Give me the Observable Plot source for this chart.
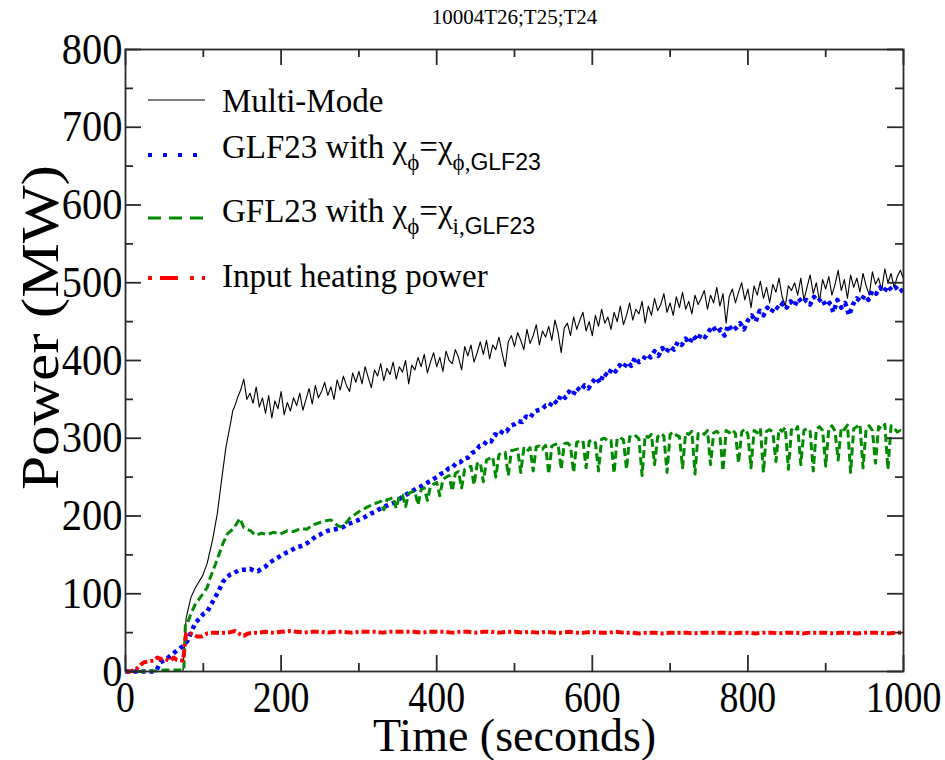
<!DOCTYPE html>
<html><head><meta charset="utf-8">
<script src="https://cdn.jsdelivr.net/npm/d3@7"></script>
<script src="https://cdn.jsdelivr.net/npm/@observablehq/plot@0.6"></script>
<style>
html,body{margin:0;padding:0;background:#fff;}
svg{display:block;}
</style></head><body>
<div id="chart"></div>
<script>
// ---------- text ----------
const chartTitle = "10004T26;T25;T24";
const xLabel = "Time (seconds)";
const yLabel = "Power (MW)";
const xMajorTicks = [0, 200, 400, 600, 800, 1000];
const xMinorTicks = [100, 300, 500, 700, 900];
const yMajorTicks = [0, 100, 200, 300, 400, 500, 600, 700, 800];
const yMinorTicks = [50, 150, 250, 350, 450, 550, 650, 750];
const seriesNames = ["Multi-Mode", "GLF23", "GFL23", "Input heating power"];
const seriesColors = ["#000000", "#0000ff", "#008b00", "#ff0000"];

// ---------- Multi-Mode (black) ----------
const mmEarlyTime  = [0, 25, 50, 74, 76, 78, 84, 90, 99, 105, 112, 118, 124, 129, 135, 138];
const mmEarlyPower = [0, 0, 0, 0, 40, 69, 95, 108, 123, 139, 170, 203, 250, 288, 319, 336];
const mmGridStart = 140, mmGridStep = 4;
const mmGridPower = [
  340,352,362,376,350,358,345,366,340,352,
  332,355,326,348,338,360,330,346,335,352,
  342,358,336,350,364,344,368,352,360,372,
  355,366,350,375,362,380,368,360,384,372,
  386,370,392,378,365,388,380,396,374,390,
  382,398,376,392,385,400,370,394,388,404,
  392,408,384,398,410,392,404,386,412,400,
  396,414,404,388,418,406,420,398,410,424,
  408,426,402,420,414,430,410,392,424,432,
  418,436,426,414,440,422,432,446,420,438,
  430,444,426,452,436,410,442,448,432,456,
  440,452,462,438,450,432,458,444,466,448,
  456,440,462,450,470,446,458,474,452,466,
  460,476,448,470,458,480,464,472,486,462,
  474,458,482,468,488,466,476,460,484,472,
  480,490,466,484,474,494,470,486,448,482,
  492,474,488,500,478,492,468,496,484,502,
  480,494,474,498,488,506,482,470,496,490,
  500,484,506,478,494,510,486,500,476,504,
  492,508,484,498,516,490,504,480,510,494,
  506,488,512,496,484,514,498,506,490,518,
  500,512,494,508,516,505
];

// ---------- GLF23 with chi_phi = chi_phi,GLF23 (blue) ----------
const blEarlyTime  = [0, 10, 20, 30, 36];
const blEarlyPower = [0, 0, 0, 0, 0];
const blGridStart = 40, blGridStep = 5;
const blGridPower = [
  2,12,14,18,22,26,30,33,40,52,
  63,68,74,77,86,95,104,115,121,125,
  127,130,131,131,132,130,129,132,135,140,
  143,146,149,152,154,157,160,161,163,166,
  170,174,176,179,181,182,183,184,186,189,
  191,193,195,197,200,203,205,208,211,213,
  215,217,220,224,227,230,233,236,238,241,
  244,247,250,254,256,261,262,268,269,274,
  275,281,283,290,291,297,296,305,303,310,
  309,316,318,322,321,328,326,334,336,337,
  342,341,349,345,356,352,360,355,365,361,
  368,364,372,378,371,384,380,390,386,394,
  390,398,393,404,398,401,408,404,412,406,
  416,410,418,414,424,420,428,422,432,426,
  434,430,438,444,436,440,432,446,438,442,
  448,440,452,458,450,464,458,468,462,470,
  466,474,468,476,470,480,474,478,472,482,
  476,480,470,474,462,478,468,474,458,472,
  480,476,484,478,490,486,494,488,496,490,
  494,488,492
];

// ---------- GFL23 with chi_phi = chi_i,GLF23 (green) ----------
const grEarlyTime  = [0,20,40,50,60,70,75,76,77,80,84,90,96,105,109,116,120,125,131,139,147,150,152,156,161,167,175,182,190,199,208,216,225,233,242,251,258,264,268,272,277,281,285,289,295,302,310,316,320];
const grEarlyPower = [0,0,1,2,2,2,2,30,62,63,74,87,95,108,121,139,150,164,177,184,197,190,185,183,181,175,178,176,179,177,181,180,184,183,189,192,194,195,192,188,186,188,193,198,202,207,211,214,216];
const grGridStart = 324, grGridStep = 4;
const grGridPower = [
  217,219,208,221,222,224,210,226,227,212,
  229,231,232,214,234,236,220,238,241,243,
  226,247,250,252,232,255,257,236,260,262,
  264,240,267,269,244,272,274,276,250,279,
  281,282,252,284,285,286,256,287,283,288,
  258,289,290,286,291,254,290,292,293,260,
  293,294,290,256,295,296,297,262,296,298,
  294,258,299,300,296,297,255,300,301,298,
  260,302,300,303,299,252,304,301,305,266,
  302,306,303,256,305,308,304,302,262,307,
  305,309,254,306,308,305,310,266,307,309,
  304,258,310,307,311,306,268,308,312,305,
  262,310,307,313,256,309,311,308,270,312,
  309,314,260,311,308,315,266,310,313,309,
  258,312,315,310,264,313,316,309,272,314,
  311,317,256,312,315,318,262,313,316,310,
  268,315,312,318,260,316,313,308,310,307
];

// ---------- Input heating power (red) ----------
const rdEarlyTime  = [0,6,12,16,20,24,30,36,41,45,49,54,58,62,66,70,74,76,78,82,86,92,98,105,112,118,125,132,141,147,152,158,165];
const rdEarlyPower = [0,0,2,5,9,12,13,14,18,16,17,15,14,18,15,14,14,32,49,50,48,45,45,49,50,50,50,50,52,48,46,49,50];
const rdGridStart = 170, rdGridStep = 10;
const rdGridPower = [
  50,51,50,51,52,51,50,51,51,50,
  51,51,50,51,51,51,50,51,51,51,
  51,50,51,51,51,50,51,51,50,51,
  51,50,51,51,50,51,50,51,50,50,
  51,50,50,51,50,50,51,50,50,49,
  50,50,49,50,50,50,49,50,50,50,
  50,49,50,50,49,50,50,49,50,50,
  49,50,50,50,49,50,50,49,50,50,
  50,49,50,50
];

function buildSeries(earlyT, earlyP, start, step, gridP) {
  const pts = earlyT.map((t, i) => ({t, p: earlyP[i]}));
  gridP.forEach((p, i) => pts.push({t: start + i * step, p}));
  return pts;
}
const multiMode = buildSeries(mmEarlyTime, mmEarlyPower, mmGridStart, mmGridStep, mmGridPower);
const glf23     = buildSeries(blEarlyTime, blEarlyPower, blGridStart, blGridStep, blGridPower);
const gfl23     = buildSeries(grEarlyTime, grEarlyPower, grGridStart, grGridStep, grGridPower);
const heating   = buildSeries(rdEarlyTime, rdEarlyPower, rdGridStart, rdGridStep, rdGridPower);

const serif = "Liberation Serif, Times New Roman, serif";
const axisGray = "#2a2a2a";
const W = 945, H = 760, mL = 125, mR = 42, mT = 49, mB = 89;
const frameW = W - mL - mR, frameH = H - mT - mB;
const majorLen = 16, minorLen = 8;
const tk = {stroke: axisGray, strokeWidth: 1.8};

const chart = Plot.plot({
  width: W, height: H,
  marginLeft: mL, marginRight: mR, marginTop: mT, marginBottom: mB,
  x: {domain: [0, 1000], label: null},
  y: {domain: [0, 800], label: null},
  style: {fontFamily: serif, background: "#fff", color: "#000"},
  marks: [
    Plot.line(multiMode, {x: "t", y: "p", stroke: seriesColors[0], strokeWidth: 1.1}),
    Plot.line(glf23, {x: "t", y: "p", stroke: seriesColors[1], strokeWidth: 4.5, strokeDasharray: "4,4", strokeLinecap: "butt"}),
    Plot.line(gfl23, {x: "t", y: "p", stroke: seriesColors[2], strokeWidth: 3, strokeDasharray: "8,4", strokeLinecap: "butt"}),
    Plot.line(heating, {x: "t", y: "p", stroke: seriesColors[3], strokeWidth: 4, strokeDasharray: "8,3,3,3", strokeLinecap: "butt"}),
    Plot.frame({stroke: axisGray, strokeWidth: 1.8}),
    // inward ticks on all four sides
    Plot.tickX(xMajorTicks, {x: d => d, insetTop: frameH - majorLen, ...tk}),
    Plot.tickX(xMinorTicks, {x: d => d, insetTop: frameH - minorLen, ...tk}),
    Plot.tickX(xMajorTicks, {x: d => d, insetBottom: frameH - majorLen, ...tk}),
    Plot.tickX(xMinorTicks, {x: d => d, insetBottom: frameH - minorLen, ...tk}),
    Plot.tickY(yMajorTicks, {y: d => d, insetRight: frameW - majorLen, ...tk}),
    Plot.tickY(yMinorTicks, {y: d => d, insetRight: frameW - minorLen, ...tk}),
    Plot.tickY(yMajorTicks, {y: d => d, insetLeft: frameW - majorLen, ...tk}),
    Plot.tickY(yMinorTicks, {y: d => d, insetLeft: frameW - minorLen, ...tk}),
    // tick labels
    Plot.axisX(xMajorTicks, {anchor: "bottom", tickSize: 0, tickPadding: 9, fontSize: 44, tickFormat: d => String(d)}),
    Plot.axisY(yMajorTicks, {anchor: "left", tickSize: 0, tickPadding: 3, fontSize: 44, tickFormat: d => String(d)}),
    // titles
    Plot.text([chartTitle], {text: d => d, frameAnchor: "top", lineAnchor: "middle", textAnchor: "middle", dy: -32, fontSize: 21}),
    Plot.text([xLabel], {text: d => d, frameAnchor: "bottom", lineAnchor: "middle", textAnchor: "middle", dy: 65, fontSize: 46}),
    Plot.text([yLabel], {text: d => d, frameAnchor: "left", lineAnchor: "middle", textAnchor: "middle", dx: -84, dy: -33, rotate: -90, fontSize: 52})
  ]
});
document.getElementById("chart").append(chart);

// horizontally condensed tick labels, as in the reference
chart.querySelectorAll('g[aria-label="x-axis tick label"] text').forEach(t => {
  const L = t.getComputedTextLength();
  t.setAttribute("textLength", (L * 0.86).toFixed(1));
  t.setAttribute("lengthAdjust", "spacingAndGlyphs");
});
chart.querySelectorAll('g[aria-label="y-axis tick label"] text').forEach(t => {
  const L = t.getComputedTextLength();
  t.setAttribute("textLength", (L * 0.92).toFixed(1));
  t.setAttribute("lengthAdjust", "spacingAndGlyphs");
});
d3.select(chart).selectAll("text").filter(function () { return this.textContent === yLabel; })
  .attr("textLength", 325).attr("lengthAdjust", "spacingAndGlyphs");

// ---------- legend ----------
const svg = d3.select(chart);
const lg = svg.append("g").attr("font-family", serif).attr("font-size", 33).attr("fill", "#000").attr("text-anchor", "start");
const legendRows = [
  {ly: 100, by: 112, dash: null, w: 1.2, parts: [["n", "Multi-Mode"]]},
  {ly: 155, by: 158, dash: "4,11", w: 4, parts: [["n", "GLF23 with χ"], ["s", "ϕ"], ["n", "=χ"], ["s", "ϕ,"], ["ss", "GLF23"]]},
  {ly: 218, by: 222, dash: "13,8", w: 3, parts: [["n", "GFL23 with χ"], ["s", "ϕ"], ["n", "=χ"], ["s", "i,"], ["ss", "GLF23"]]},
  {ly: 278, by: 287, dash: "4,8,18,12", w: 4, parts: [["n", "Input heating power"]]}
];
legendRows.forEach((r, i) => {
  const ln = lg.append("line").attr("x1", 148).attr("x2", 205).attr("y1", r.ly).attr("y2", r.ly)
    .attr("stroke", seriesColors[i]).attr("stroke-width", r.w);
  if (r.dash) ln.attr("stroke-dasharray", r.dash);
  const tx = lg.append("text").attr("x", 222).attr("y", r.by);
  let lowered = false;
  r.parts.forEach(([kind, s]) => {
    const ts = tx.append("tspan").text(s);
    if (kind === "n") {
      if (lowered) { ts.attr("dy", -12); lowered = false; }
    } else {
      ts.attr("font-size", 23);
      if (kind === "ss") ts.attr("font-family", "Liberation Sans, Arial, sans-serif");
      if (!lowered) { ts.attr("dy", 12); lowered = true; }
    }
  });
});
</script>
</body></html>
